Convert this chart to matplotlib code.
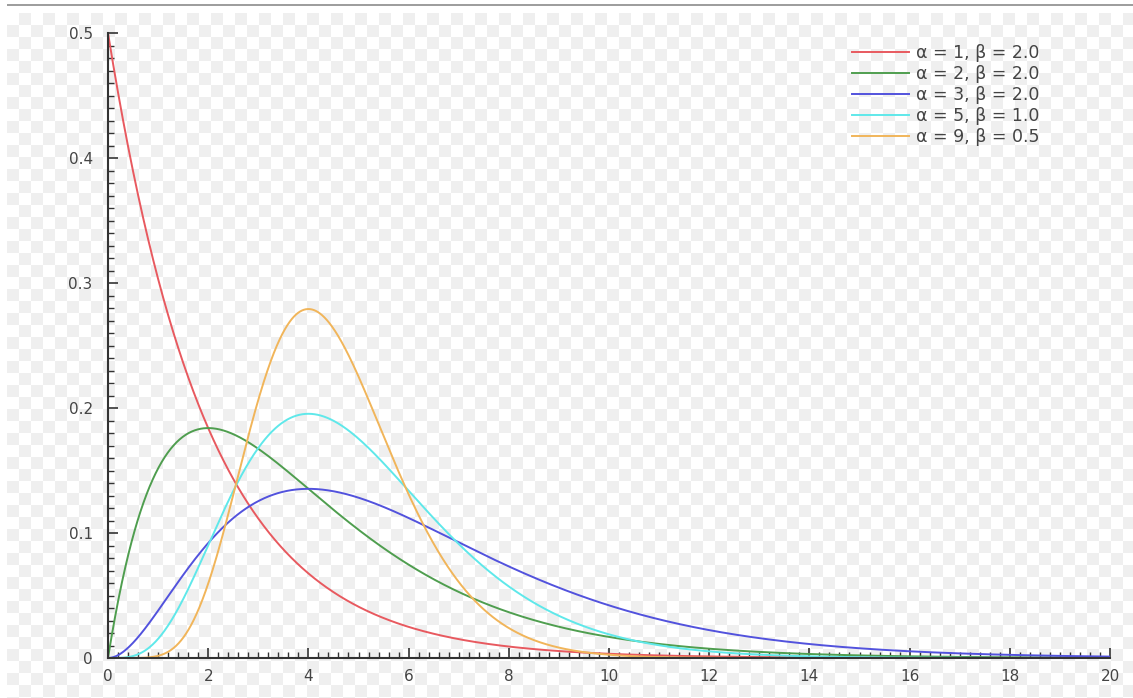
import math
import numpy as np
import matplotlib
matplotlib.use('Agg')
import matplotlib.pyplot as plt
from matplotlib.ticker import MultipleLocator

# Gamma distribution parameters from the legend (shape alpha, scale beta)
alphas = [1, 2, 3, 5, 9]
betas = [2.0, 2.0, 2.0, 1.0, 0.5]
colors = ['#e8595f', '#4f9e4f', '#5252dd', '#5fe8ea', '#f1b55a']
labels = ['α = 1, β = 2.0', 'α = 2, β = 2.0', 'α = 3, β = 2.0',
          'α = 5, β = 1.0', 'α = 9, β = 0.5']

W, H = 1133, 698
fig = plt.figure(figsize=(W / 100, H / 100), dpi=100)
fig.patch.set_facecolor('white')

# checkered "transparent" backdrop + thin rule at the top
bg = np.ones((H, W, 3))
yy, xx = np.mgrid[0:H, 0:W]
sq = 12
checker = (((xx - 7) // sq + (yy - 13) // sq) % 2 == 1) & (xx >= 7) & (yy >= 13)
bg[checker] = 0.94
bg[4:6, 7:] = 0.62
bg_ax = fig.add_axes([0, 0, 1, 1], zorder=0)
bg_ax.imshow(bg, aspect='auto', interpolation='nearest')
bg_ax.axis('off')

ax = fig.add_axes([108 / W, 1 - 658 / H, (1110 - 108) / W, (658 - 33) / H], zorder=1)
ax.set_facecolor('none')

x = np.linspace(0, 20, 2001)
for a, b, c, lab in zip(alphas, betas, colors, labels):
    y = x ** (a - 1) * np.exp(-x / b) / (math.gamma(a) * b ** a)
    ax.plot(x, y, color=c, lw=1.4, label=lab)

ax.set_xlim(0, 20)
ax.set_ylim(0, 0.5)
ax.xaxis.set_major_locator(MultipleLocator(2))
ax.xaxis.set_minor_locator(MultipleLocator(0.2))
ax.yaxis.set_major_locator(MultipleLocator(0.1))
ax.yaxis.set_minor_locator(MultipleLocator(0.01))
ax.set_yticks([0, 0.1, 0.2, 0.3, 0.4, 0.5])
ax.set_yticklabels(['0', '0.1', '0.2', '0.3', '0.4', '0.5'])

for s in ['top', 'right']:
    ax.spines[s].set_visible(False)
for s in ['left', 'bottom']:
    ax.spines[s].set_color('#333333')
    ax.spines[s].set_linewidth(1.5)

ax.tick_params(which='major', direction='in', length=7, width=1.2,
               color='#333333', labelcolor='#444444', labelsize=11)
ax.tick_params(which='minor', direction='in', length=4, width=1,
               color='#333333')
ax.tick_params(axis='x', which='major', pad=8)
ax.tick_params(axis='y', which='major', pad=11)

leg = fig.legend(loc='upper left', bbox_to_anchor=(852 / W, 1 - 44 / H),
                 frameon=False, fontsize=12.5, handlelength=3.3,
                 handletextpad=0.4, labelspacing=0.18,
                 borderpad=0, borderaxespad=0)
for t in leg.get_texts():
    t.set_color('#444444')

fig.savefig('out.png', dpi=100)
